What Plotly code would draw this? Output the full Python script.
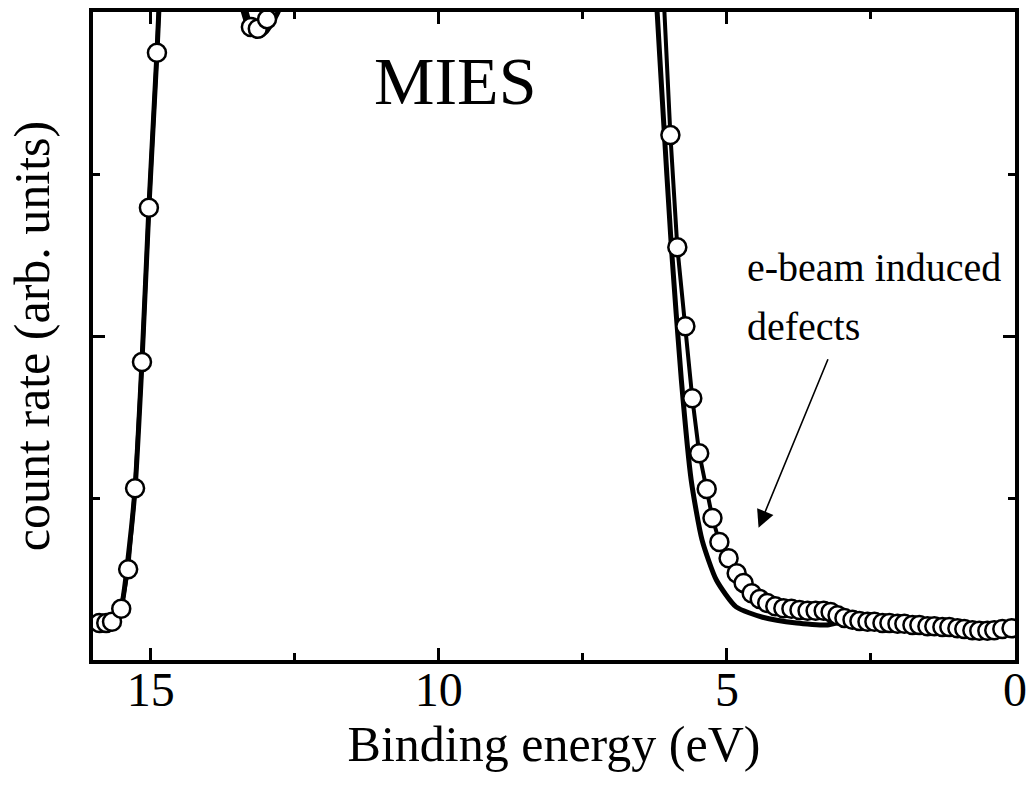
import plotly.graph_objects as go

# ---- data (binding energy in eV, count rate in arb. units, 0..100 shown) ----
# e-beam exposed surface (open circles)
circ_x = [15.89, 15.77, 15.67, 15.51, 15.39, 15.27, 15.15, 15.03, 14.89, 14.77,
          14.5, 14.2, 13.9, 13.62, 13.5, 13.38, 13.26, 13.14, 12.98, 12.86, 12.7,
          12.4, 11.5, 10.0, 8.5, 7.0, 6.5, 6.22, 6.10,
          5.98, 5.86, 5.72, 5.60, 5.48, 5.35, 5.25, 5.13, 4.97, 4.83,
          4.71, 4.57, 4.43, 4.30, 4.16, 4.02, 3.88, 3.74, 3.60, 3.46,
          3.32, 3.20, 3.08, 2.96, 2.82, 2.70, 2.56, 2.44, 2.30, 2.18,
          2.04, 1.92, 1.78, 1.66, 1.52, 1.40, 1.26, 1.14, 1.00, 0.88,
          0.74, 0.62, 0.48, 0.36, 0.22, 0.06]
circ_y = [5.7, 5.7, 5.9, 7.9, 14.0, 26.5, 46.0, 69.8, 93.7, 118,
          150, 160, 145, 118, 108, 101.5, 97.7, 97.4, 98.9, 102.5, 110,
          130, 170, 200, 220, 200, 160, 125, 102,
          81.0, 63.7, 51.5, 40.4, 31.9, 26.4, 21.9, 18.2, 15.7, 13.4,
          11.9, 10.3, 9.4, 8.8, 8.3, 8.0, 7.9, 7.7, 7.6, 7.6,
          7.6, 7.4, 6.9, 6.5, 6.2, 6.0, 5.9, 5.9, 5.7, 5.7,
          5.6, 5.6, 5.4, 5.4, 5.2, 5.2, 5.1, 5.1, 4.9, 4.8,
          4.6, 4.5, 4.5, 4.6, 4.8, 4.9]

# clean surface (solid line)
line_x = [15.95, 15.8, 15.67, 15.51, 15.37, 15.27, 15.15, 15.03, 14.89, 14.75,
          14.4, 14.0, 13.7, 13.5, 13.4, 13.3, 13.2, 13.1, 13.0, 12.9, 12.8, 12.65,
          12.3, 11.0, 9.0, 7.0, 6.5, 6.30, 6.21, 6.12, 5.96, 5.79, 5.62, 5.43,
          5.18, 4.84, 4.38, 3.79, 3.27, 3.10, 2.87]
line_y = [5.6, 5.7, 5.9, 8.2, 17.4, 26.5, 46.0, 69.8, 93.7, 120,
          155, 150, 120, 104, 100.3, 97.6, 96.6, 96.3, 96.9, 98.2, 99.8, 103,
          125, 180, 210, 190, 150, 115, 100, 86.4, 63.3, 43.2, 27.8, 18.5,
          12.3, 8.2, 6.6, 5.7, 5.4, 5.7, 6.0]

x_ticks = [15, 10, 5, 0]
x_ticktext = ["15", "10", "5", "0"]

FONT = "Liberation Serif, Times New Roman, serif"

fig = go.Figure()
fig.add_trace(go.Scatter(
    x=line_x, y=line_y, mode="lines",
    line=dict(color="black", width=5, shape="spline", smoothing=0.6),
    showlegend=False, hoverinfo="skip"))
fig.add_trace(go.Scatter(
    x=circ_x, y=circ_y, mode="lines+markers",
    line=dict(color="black", width=4),
    marker=dict(symbol="circle", size=18, color="white",
                line=dict(color="black", width=2.5)),
    showlegend=False, hoverinfo="skip"))

fig.update_layout(
    width=1029, height=785,
    margin=dict(l=93, r=14, t=12, b=125),
    paper_bgcolor="white", plot_bgcolor="white",
    font=dict(family=FONT, color="black"),
    xaxis=dict(
        range=[16, 0], tickvals=x_ticks, ticktext=x_ticktext,
        ticks="inside", ticklen=12, tickwidth=3, tickcolor="black",
        minor=dict(ticks="inside", ticklen=7, tickwidth=3, dtick=2.5,
                   tickcolor="black"),
        showline=True, linewidth=4, linecolor="black", mirror="ticks",
        showgrid=False, zeroline=False, automargin=False,
        tickfont=dict(size=48, family=FONT), ticklabelstandoff=-16,
        title=dict(text="Binding energy (eV)", font=dict(size=50, family=FONT),
                   standoff=0),
    ),
    yaxis=dict(
        range=[0, 100], dtick=50, showticklabels=False,
        ticks="inside", ticklen=12, tickwidth=3, tickcolor="black",
        minor=dict(ticks="inside", ticklen=7, tickwidth=3, dtick=25,
                   tickcolor="black"),
        showline=True, linewidth=4, linecolor="black", mirror="ticks",
        showgrid=False, zeroline=False, automargin=False,
        title=dict(text="count rate (arb. units)", font=dict(size=50, family=FONT),
                   standoff=25),
    ),
    annotations=[
        dict(text="MIES", xref="paper", yref="paper", x=0.393, y=0.8935,
             xanchor="center", yanchor="middle", showarrow=False,
             font=dict(size=68, family=FONT)),
        dict(text="e-beam induced", xref="paper", yref="paper", x=0.7075, y=0.605,
             xanchor="left", yanchor="middle", showarrow=False,
             font=dict(size=40, family=FONT)),
        dict(text="defects", xref="paper", yref="paper", x=0.7075, y=0.515,
             xanchor="left", yanchor="middle", showarrow=False,
             font=dict(size=40, family=FONT)),
        dict(text="", x=4.45, y=20.4, xref="x", yref="y",
             ax=70, ay=-170, axref="pixel", ayref="pixel",
             showarrow=True, arrowhead=2, arrowsize=2.2, arrowwidth=1.6,
             arrowcolor="black"),
    ],
)

fig.write_html("out.html")
